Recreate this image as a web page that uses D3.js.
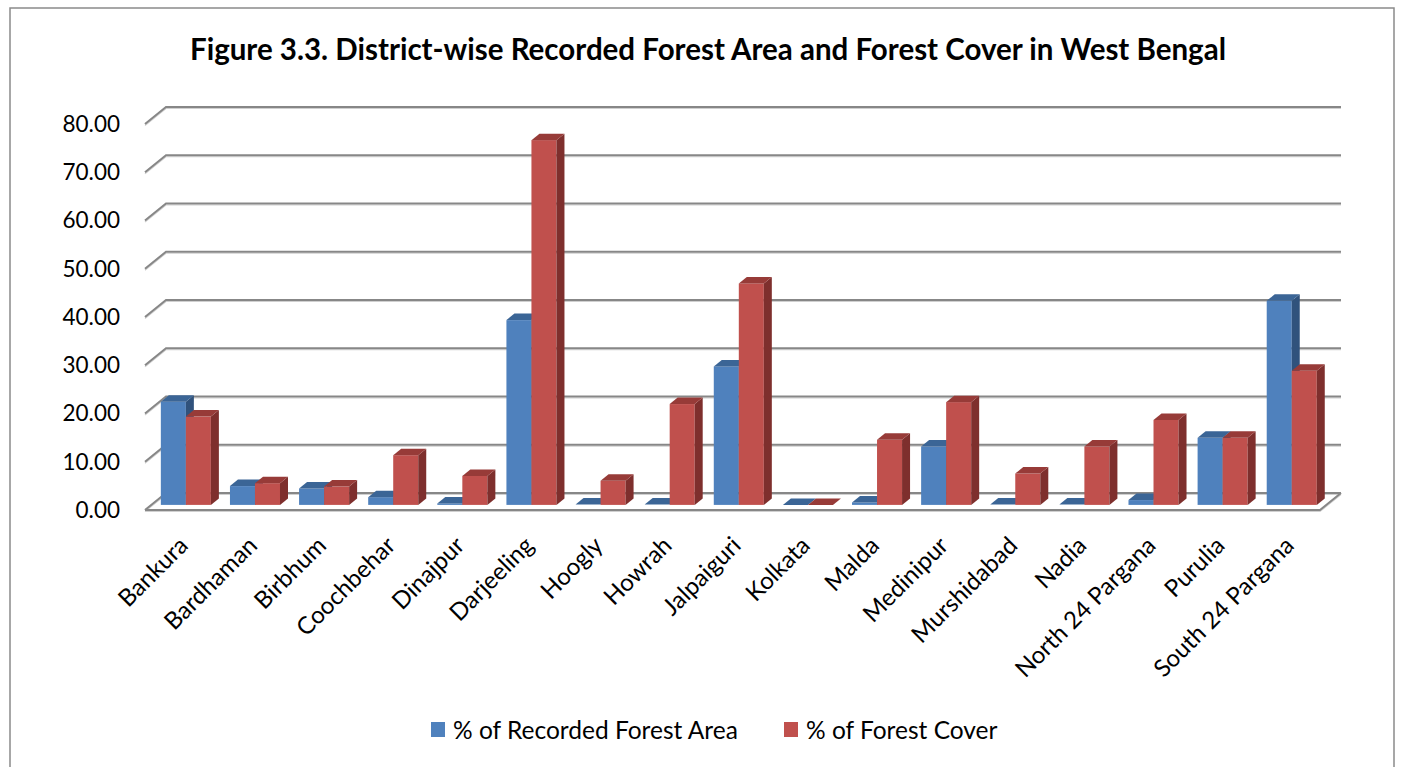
<!DOCTYPE html>
<html>
<head>
<meta charset="utf-8">
<script src="https://cdn.jsdelivr.net/npm/d3@7"></script>
<style>
  body { margin: 0; background: #fff; }
  text { font-family: Lato, "Open Sans", sans-serif; fill: #000; }
</style>
</head>
<body>
<svg id="chart" width="1410" height="767"></svg>
<script>
// data
const districts = ["Bankura", "Bardhaman", "Birbhum", "Coochbehar", "Dinajpur", "Darjeeling",
  "Hoogly", "Howrah", "Jalpaiguri", "Kolkata", "Malda", "Medinipur", "Murshidabad",
  "Nadia", "North 24 Pargana", "Purulia", "South 24 Pargana"];
const recordedArea = [21.4, 3.9, 3.4, 1.6, 0.3, 38.3, 0.1, 0.1, 28.7, 0.0, 0.5, 12.1, 0.1, 0.1, 1.0, 13.9, 42.3];
const forestCover = [18.3, 4.5, 3.8, 10.3, 6.0, 75.6, 5.0, 20.9, 45.9, 0.0, 13.5, 21.3, 6.5, 12.1, 17.6, 13.9, 27.8];
const yTicks = [0, 10, 20, 30, 40, 50, 60, 70, 80];
const seriesNames = ["% of Recorded Forest Area", "% of Forest Cover"];

const colors = [
  { front: "#4F81BD", top: "#3B6596", side: "#30527C" },
  { front: "#C0504D", top: "#973B38", side: "#7E2F2D" }
];

const svg = d3.select("#chart");

// outer frame
svg.append("rect")
  .attr("x", 10).attr("y", 8)
  .attr("width", 1384).attr("height", 790)
  .attr("fill", "none").attr("stroke", "#8a8a8a").attr("stroke-width", 1.5);

// title
svg.append("text")
  .attr("x", 708).attr("y", 60)
  .attr("text-anchor", "middle")
  .style("font-size", "29.5px").style("font-weight", "bold")
  .text("Figure 3.3. District-wise Recorded Forest Area and Forest Cover in West Bengal");

// 3d geometry: front plane and depth offset
const depth = { dx: 21, dy: -17 };
const x = d3.scaleBand().domain(districts).range([145, 1320]).padding(0);
const y = d3.scaleLinear().domain([0, 80]).range([510, 124]);
const bw = x.bandwidth();
const x1 = d3.scaleBand().domain([0, 1]).range([bw * 0.138, bw * 0.862]).padding(0);

function pts(arr) { return arr.map(p => p.join(",")).join(" "); }

// walls: gridlines on back wall and diagonal on side wall
const grid = svg.append("g");
function wallLine(p) {
  grid.append("polyline")
    .attr("points", pts(p.map(q => [q[0], q[1] + 1.5])))
    .attr("fill", "none").attr("stroke", "#d0d0d0").attr("stroke-width", 1.2);
  grid.append("polyline")
    .attr("points", pts(p))
    .attr("fill", "none").attr("stroke", "#878787").attr("stroke-width", 2);
}
yTicks.forEach(t => {
  wallLine([[145, y(t)], [145 + depth.dx, y(t) + depth.dy], [1320 + depth.dx, y(t) + depth.dy]]);
});

// floor outline
wallLine([[145, y(0)], [1320, y(0)], [1320 + depth.dx, y(0) + depth.dy]]);

// y axis labels
svg.append("g").selectAll("text")
  .data(yTicks)
  .enter().append("text")
  .attr("x", 120).attr("y", d => y(d))
  .attr("text-anchor", "end")
  .attr("dy", "0.35em")
  .style("font-size", "22.5px")
  .text(d => d.toFixed(2));

// bars
const fz = 0.3;                  // front of bars as fraction of floor depth
const bd = { dx: 8, dy: -6.5 };  // bar depth
const bars = svg.append("g");
districts.forEach((name, i) => {
  [recordedArea[i], forestCover[i]].forEach((v, s) => {
    const x0 = x(name) + x1(s) + depth.dx * fz;
    const w = x1.bandwidth();
    const base = y(0) + depth.dy * fz;
    const top = y(v) + depth.dy * fz;
    const c = colors[s];
    const g = bars.append("g");
    if (v > 0.15) {
      g.append("rect").attr("x", x0).attr("y", top)
        .attr("width", w).attr("height", base - top).attr("fill", c.front);
      g.append("polygon")
        .attr("points", pts([[x0 + w, top], [x0 + w + bd.dx, top + bd.dy], [x0 + w + bd.dx, base + bd.dy], [x0 + w, base]]))
        .attr("fill", c.side);
    }
    g.append("polygon")
      .attr("points", pts([[x0, top], [x0 + w, top], [x0 + w + bd.dx, top + bd.dy], [x0 + bd.dx, top + bd.dy]]))
      .attr("fill", c.top);
  });
});

// x labels, rotated
svg.append("g").selectAll("text")
  .data(districts)
  .enter().append("text")
  .attr("transform", d => `translate(${x(d) + bw / 2 + 4},${541}) rotate(-45)`)
  .attr("text-anchor", "end")
  .attr("dy", "0.35em")
  .style("font-size", "24px")
  .text(d => d);

// legend
const legend = svg.append("g");
const legendX = [431, 784];
seriesNames.forEach((n, s) => {
  legend.append("rect")
    .attr("x", legendX[s]).attr("y", 722)
    .attr("width", 14).attr("height", 15)
    .attr("fill", colors[s].front);
  legend.append("text")
    .attr("x", legendX[s] + 22).attr("y", 730)
    .attr("dy", "0.35em")
    .style("font-size", "24.5px")
    .text(n);
});
</script>
</body>
</html>
